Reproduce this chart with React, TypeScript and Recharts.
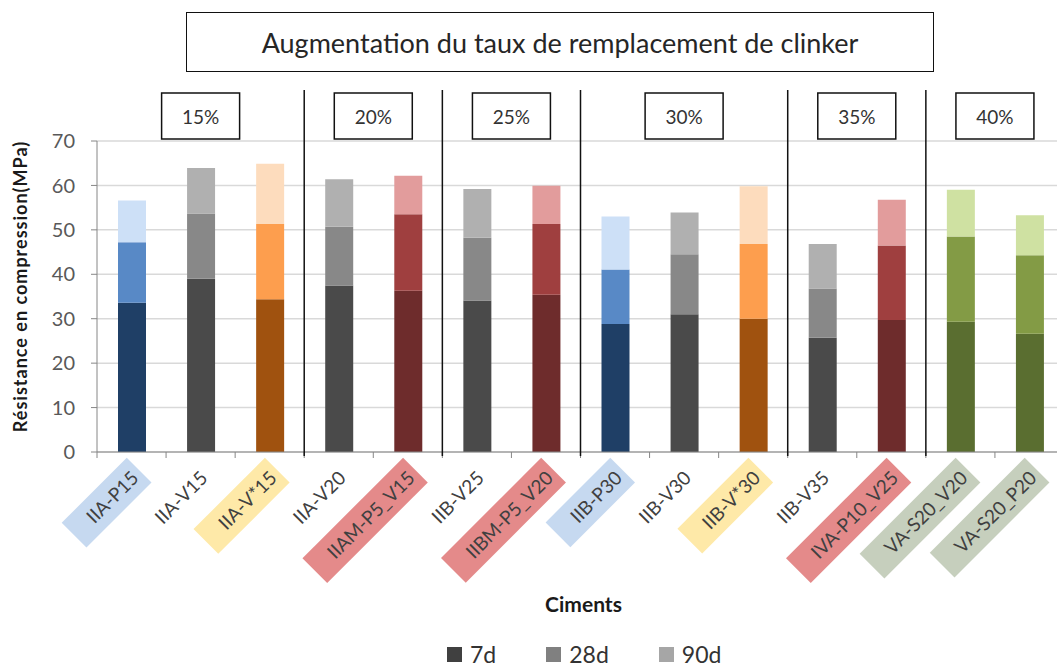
import React from 'react';
import { BarChart, Bar, Cell, XAxis, YAxis, CartesianGrid, Legend, Label } from 'recharts';

// cement names, left to right
const categories = [
  'IIA-P15', 'IIA-V15', 'IIA-V*15', 'IIA-V20', 'IIAM-P5_V15', 'IIB-V25', 'IIBM-P5_V20',
  'IIB-P30', 'IIB-V30', 'IIB-V*30', 'IIB-V35', 'IVA-P10_V25', 'VA-S20_V20', 'VA-S20_P20',
];
// compressive strength (MPa) at each age
const strength7d = [33.6, 39.0, 34.4, 37.5, 36.3, 34.1, 35.4, 28.8, 31.0, 30.0, 25.7, 29.7, 29.3, 26.6];
const strength28d = [47.2, 53.7, 51.3, 50.7, 53.5, 48.2, 51.3, 41.1, 44.5, 46.8, 36.8, 46.5, 48.5, 44.3];
const strength90d = [56.6, 63.9, 64.9, 61.4, 62.2, 59.2, 59.9, 53.0, 53.9, 59.8, 46.8, 56.8, 59.0, 53.3];
const families = ['blue', 'gray', 'orange', 'gray', 'red', 'gray', 'red', 'blue', 'gray', 'orange', 'gray', 'red', 'green', 'green'];

const ages = ['7d', '28d', '90d'];
const groupLabels = ['15%', '20%', '25%', '30%', '35%', '40%'];
const groupSizes = [3, 2, 2, 3, 2, 2];
const yTicks = [0, 10, 20, 30, 40, 50, 60, 70];

const palette: Record<string, { shades: string[]; tag: string | null }> = {
  blue: { shades: ['#1f3f66', '#5889c6', '#cde0f7'], tag: '#c6d9f0' },
  gray: { shades: ['#4a4a4a', '#888888', '#b0b0b0'], tag: null },
  orange: { shades: ['#a0520f', '#fd9e4e', '#fddcbd'], tag: '#fee9a8' },
  red: { shades: ['#6e2c2c', '#9f3f3f', '#e29c9c'], tag: '#e48a8a' },
  green: { shades: ['#5a6e30', '#839b45', '#cfe1a2'], tag: '#c6cfbd' },
};

const data = categories.map((name, i) => ({
  name,
  d7: strength7d[i],
  d28: +(strength28d[i] - strength7d[i]).toFixed(1),
  d90: +(strength90d[i] - strength28d[i]).toFixed(1),
}));

const W = 1070;
const H = 670;
const PLOT_TOP = 141;
const PLOT_LEFT = 97;
const PLOT_BOTTOM = 452;
const X_AXIS_H = 30;
const FONT = 'Lato, "Open Sans", sans-serif';
const TICK_FONT = 19;

// group start index -> group number
const groupStarts: Record<number, number> = {};
let acc = 0;
groupSizes.forEach((n, g) => { groupStarts[acc] = g; acc += n; });

let ctx: CanvasRenderingContext2D | null = null;
function textWidth(s: string) {
  if (!ctx) ctx = document.createElement('canvas').getContext('2d');
  if (!ctx) return s.length * TICK_FONT * 0.5;
  ctx.font = `${TICK_FONT}px Lato`;
  return ctx.measureText(s).width;
}

function CementTick(props: any) {
  const { x, y, payload } = props;
  const i = categories.indexOf(payload.value);
  const half = payload.offset ?? (W - 6 - PLOT_LEFT) / categories.length / 2;
  const fam = palette[families[i]];
  const tw = textWidth(payload.value);
  const g = groupStarts[i];
  const left = x - half;
  return (
    <g>
      {/* Excel-style ticks between categories */}
      <line x1={left} y1={y} x2={left} y2={y + 6} stroke="#868686" />
      {i === categories.length - 1 && <line x1={x + half} y1={y} x2={x + half} y2={y + 6} stroke="#868686" />}
      {g !== undefined && g > 0 && (
        <line x1={left} y1={90} x2={left} y2={y + 4} stroke="#111" strokeWidth={1.5} />
      )}
      {g !== undefined && (
        <g>
          <rect x={left + groupSizes[g] * half - 39} y={PLOT_TOP - 48} width={78} height={46} fill="#fff" stroke="#111" strokeWidth={1.5} />
          <text x={left + groupSizes[g] * half} y={PLOT_TOP - 25} textAnchor="middle" dominantBaseline="central"
            fontSize={19} fill="#333" fontFamily={FONT}>{groupLabels[g]}</text>
        </g>
      )}
      <g transform={`translate(${x + 3},${y + 22}) rotate(-45)`}>
        {fam.tag && <rect x={-tw - 22} y={-17} width={tw + 28} height={35} fill={fam.tag} />}
        <text x={0} y={0} textAnchor="end" dominantBaseline="central" fontSize={TICK_FONT}
          fill="#404040" fontFamily={FONT}>{payload.value}</text>
      </g>
    </g>
  );
}

function LegendBox({ payload }: any) {
  const items = [...(payload || [])].sort((a: any, b: any) => ages.indexOf(a.value) - ages.indexOf(b.value));
  return (
    <div style={{ display: 'flex', alignItems: 'center', fontFamily: FONT, fontSize: 23, color: '#333' }}>
      {items.map((p: any) => (
        <div key={p.value} style={{ display: 'flex', alignItems: 'center', marginRight: 50 }}>
          <span style={{ width: 15, height: 15, background: p.color, display: 'inline-block', marginRight: 8 }} />
          <span>{p.value}</span>
        </div>
      ))}
    </div>
  );
}

export default function App() {
  return (
    <div style={{ position: 'absolute', left: 0, top: 0, width: 1057, height: H, overflow: 'hidden', background: '#fff', fontFamily: FONT }}>
      <div style={{
        position: 'absolute', left: 186, top: 12, width: 746, height: 58, border: '1.5px solid #111',
        display: 'flex', alignItems: 'center', justifyContent: 'center', fontSize: 27, color: '#262626',
      }}>
        Augmentation du taux de remplacement de clinker
      </div>
      <div style={{ position: 'absolute', left: 0, top: 0 }}>
        <BarChart width={W} height={H} data={data}
          margin={{ top: PLOT_TOP, right: 6, left: 0, bottom: H - PLOT_BOTTOM - X_AXIS_H }} barSize={28}>
          <CartesianGrid vertical={false} stroke="#d9d9d9" strokeWidth={1.5} />
          <XAxis dataKey="name" height={X_AXIS_H} interval={0} tickSize={0} tickMargin={0}
            axisLine={{ stroke: '#868686' }} tick={<CementTick />}>
            <Label content={({ viewBox }: any) => (
              <text x={viewBox.x + viewBox.width / 2 + 3} y={603} textAnchor="middle" dominantBaseline="central"
                fontSize={21} fontWeight="bold" fill="#1a1a1a" fontFamily={FONT}>Ciments</text>
            )} />
          </XAxis>
          <YAxis width={PLOT_LEFT} domain={[0, 70]} ticks={yTicks} interval={0} tickSize={6} tickMargin={16}
            axisLine={{ stroke: '#868686' }} tickLine={{ stroke: '#868686' }}
            tick={{ fontSize: 20, fill: '#595959', fontFamily: FONT }}>
            <Label content={({ viewBox }: any) => {
              const cx = 20;
              const cy = viewBox.y + viewBox.height / 2 - 10;
              return (
                <text x={cx} y={cy} transform={`rotate(-90 ${cx} ${cy})`} textAnchor="middle" dominantBaseline="central"
                  fontSize={18} letterSpacing={1} fontWeight="bold" fill="#1a1a1a" fontFamily={FONT}>Résistance en compression(MPa)</text>
              );
            }} />
          </YAxis>
          <Legend verticalAlign="middle" content={<LegendBox />}
            wrapperStyle={{ top: 640, left: 447, width: 'auto', bottom: 'auto' }} />
          <Bar dataKey="d7" name="7d" stackId="s" fill="#404040" isAnimationActive={false}>
            {data.map((d, i) => <Cell key={d.name} fill={palette[families[i]].shades[0]} />)}
          </Bar>
          <Bar dataKey="d28" name="28d" stackId="s" fill="#808080" isAnimationActive={false}>
            {data.map((d, i) => <Cell key={d.name} fill={palette[families[i]].shades[1]} />)}
          </Bar>
          <Bar dataKey="d90" name="90d" stackId="s" fill="#a6a6a6" isAnimationActive={false}>
            {data.map((d, i) => <Cell key={d.name} fill={palette[families[i]].shades[2]} />)}
          </Bar>
        </BarChart>
      </div>
    </div>
  );
}
